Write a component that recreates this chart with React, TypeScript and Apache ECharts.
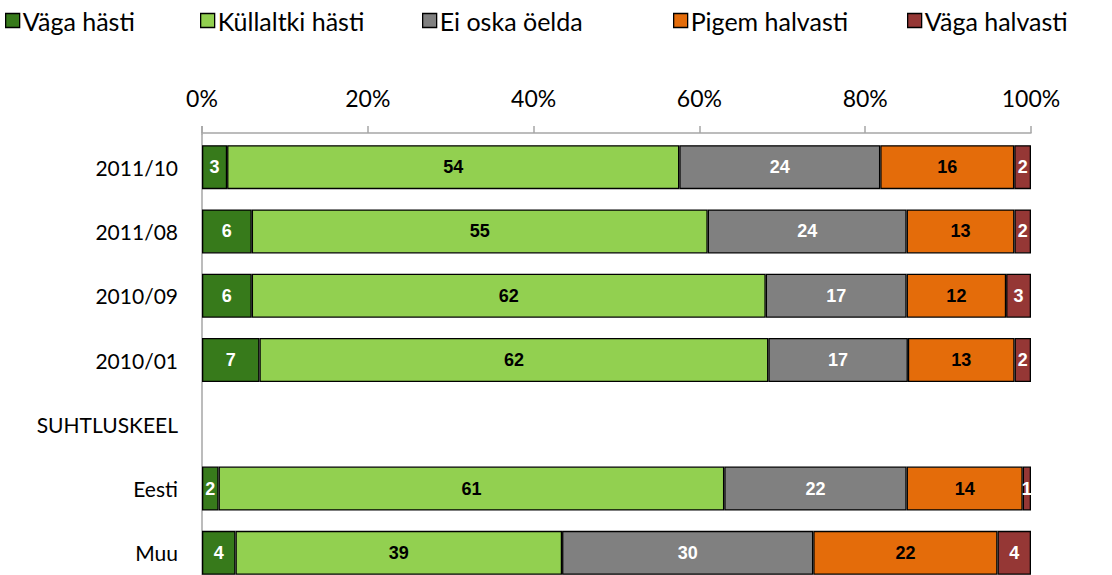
import React, { useEffect, useRef } from "react";
import * as echarts from "echarts";

const categories = ["2011/10", "2011/08", "2010/09", "2010/01", "SUHTLUSKEEL", "Eesti", "Muu"];
const seriesNames = ["Väga hästi", "Küllaltki hästi", "Ei oska öelda", "Pigem halvasti", "Väga halvasti"];
const vagaHasti = [3, 6, 6, 7, null, 2, 4];
const kullaltkiHasti = [54, 55, 62, 62, null, 61, 39];
const eiOska = [24, 24, 17, 17, null, 22, 30];
const pigemHalvasti = [16, 13, 12, 13, null, 14, 22];
const vagaHalvasti = [2, 2, 3, 2, null, 1, 4];
const xTickLabels = ["0%", "20%", "40%", "60%", "80%", "100%"];

const seriesValues = [vagaHasti, kullaltkiHasti, eiOska, pigemHalvasti, vagaHalvasti];
const colors = ["#377A1B", "#92D050", "#808080", "#E46C0A", "#953735"];
const labelColors = ["#ffffff", "#000000", "#ffffff", "#000000", "#ffffff"];
const legendLeft = [5, 200, 422, 673, 907];

export default function App() {
  const ref = useRef<HTMLDivElement>(null);
  useEffect(() => {
    if (!ref.current) return;
    const chart = echarts.init(ref.current, null, { renderer: "svg" });
    const totals = categories.map((_, i) =>
      seriesValues.reduce((s, arr) => s + (arr[i] ?? 0), 0)
    );
    const series = seriesValues.map((arr, si) => ({
      name: seriesNames[si],
      type: "bar",
      stack: "total",
      barWidth: 44,
      itemStyle: { color: colors[si], borderColor: "#000", borderWidth: 1.3 },
      label: {
        show: true,
        position: "inside",
        color: labelColors[si],
        fontFamily: "Liberation Sans",
        fontWeight: "bold",
        fontSize: 18,
        formatter: (p: any) => String(arr[p.dataIndex]),
      },
      data: arr.map((v, i) => (v == null ? "-" : (v / totals[i]) * 100)),
    }));
    const legends = seriesNames.map((n, i) => ({
      data: [n],
      left: legendLeft[i],
      top: 8,
      itemWidth: 14,
      itemHeight: 14,
      itemGap: 0,
      icon: "rect",
      textStyle: { fontFamily: "Lato", fontSize: 25, color: "#000", padding: [0, 0, 0, -2] },
      itemStyle: { borderColor: "#000", borderWidth: 1.3 },
      padding: 0,
    }));
    chart.setOption({
      animation: false,
      legend: legends,
      grid: { left: 202, right: 81, top: 135, height: 450, containLabel: false },
      xAxis: {
        type: "value",
        position: "top",
        offset: 2,
        min: 0,
        max: 100,
        interval: 20,
        axisLine: { show: true, lineStyle: { color: "#A6A6A6", width: 1.5 } },
        axisTick: { show: true, length: 7, lineStyle: { color: "#A6A6A6", width: 1.5 } },
        splitLine: { show: false },
        axisLabel: {
          margin: 24,
          fontFamily: "Lato",
          fontSize: 23,
          color: "#000",
          formatter: (v: number) => xTickLabels[Math.round(v / 20)],
        },
      },
      yAxis: {
        type: "category",
        data: categories,
        inverse: true,
        axisLine: { show: true, lineStyle: { color: "#A6A6A6", width: 1.5 } },
        axisTick: { show: false },
        axisLabel: { margin: 24, fontFamily: "Lato", fontSize: 21, color: "#000" },
      },
      graphic: [
        {
          type: "line",
          shape: { x1: 202, y1: 126, x2: 202, y2: 135 },
          style: { stroke: "#A6A6A6", lineWidth: 1.5 },
        },
      ],
      series,
    });
    return () => chart.dispose();
  }, []);
  return (
    <div
      ref={ref}
      style={{ position: "fixed", left: 0, top: 0, width: 1112, height: 600, background: "#fff" }}
    />
  );
}
